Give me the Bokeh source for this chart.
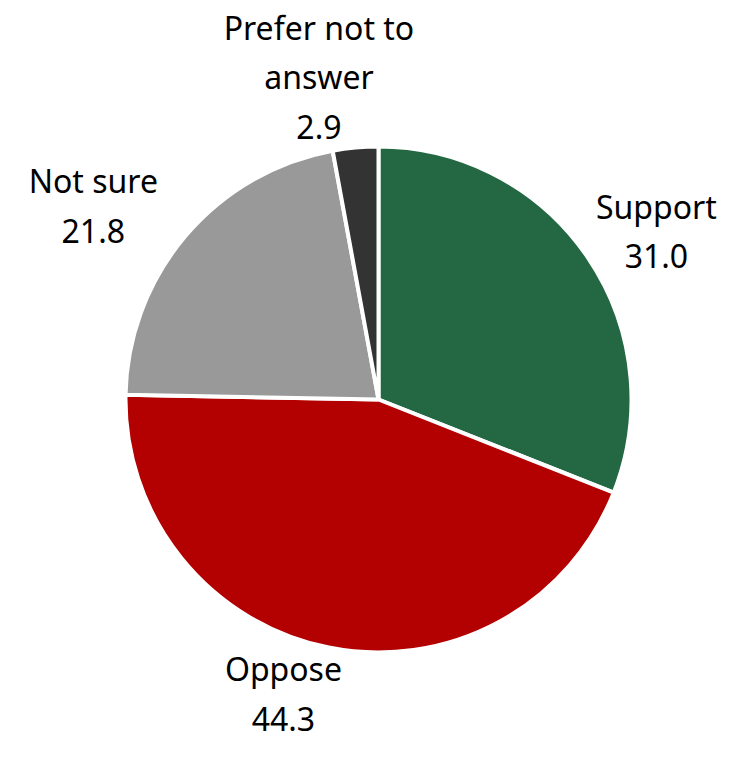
import numpy as np
from bokeh.plotting import figure
from bokeh.models import ColumnDataSource, Range1d
from bokeh.core.properties import value
from bokeh.embed import file_html
from bokeh.resources import INLINE

categories = ["Support", "Oppose", "Not sure", "Prefer not to\nanswer"]
values = [31.0, 44.3, 21.8, 2.9]
colors = ["#236843", "#B30000", "#999999", "#333333"]

W, H = 736, 751
cx, cy = 378, H - 399   # pie centre in figure pixels
R = 253
LRX = 336          # horizontal label distance
R0 = 252           # radial gap to label edge
HALF_LINE = 24     # half of a text line height
LEFT_SHIFT = -29

vals = np.array(values)
frac = vals / vals.sum()
cum = np.concatenate([[0], np.cumsum(frac)])
# clockwise from top
start = np.pi / 2 - 2 * np.pi * cum[1:]
end = np.pi / 2 - 2 * np.pi * cum[:-1]
mid = (start + end) / 2

labels = [f"{c}\n{v:.1f}" for c, v in zip(categories, values)]
nlines = np.array([lab.count("\n") + 1 for lab in labels])

lx = cx + LRX * np.cos(mid) + np.where(np.cos(mid) < 0, LEFT_SHIFT, 0)
ly = cy + (R0 + nlines * HALF_LINE) * np.sin(mid)

src = ColumnDataSource(dict(start=start, end=end, color=colors,
                            lx=lx, ly=ly, label=labels))

p = figure(width=W, height=H, output_backend="svg", toolbar_location=None,
           x_range=Range1d(0, W), y_range=Range1d(0, H), min_border=0)
p.title.visible = False
p.axis.visible = False
p.grid.visible = False
p.outline_line_color = None
p.background_fill_color = "white"

p.wedge(x=cx, y=cy, radius=R, start_angle="start", end_angle="end",
        fill_color="color", line_color="white", line_width=4, source=src)

p.text(x="lx", y="ly", text="label", source=src, text_align="center",
       text_baseline="middle", text_font=value("Noto Sans"),
       text_font_size="32px", text_color="black", text_line_height=1.15)

open("out.html", "w").write(file_html(p, INLINE))
